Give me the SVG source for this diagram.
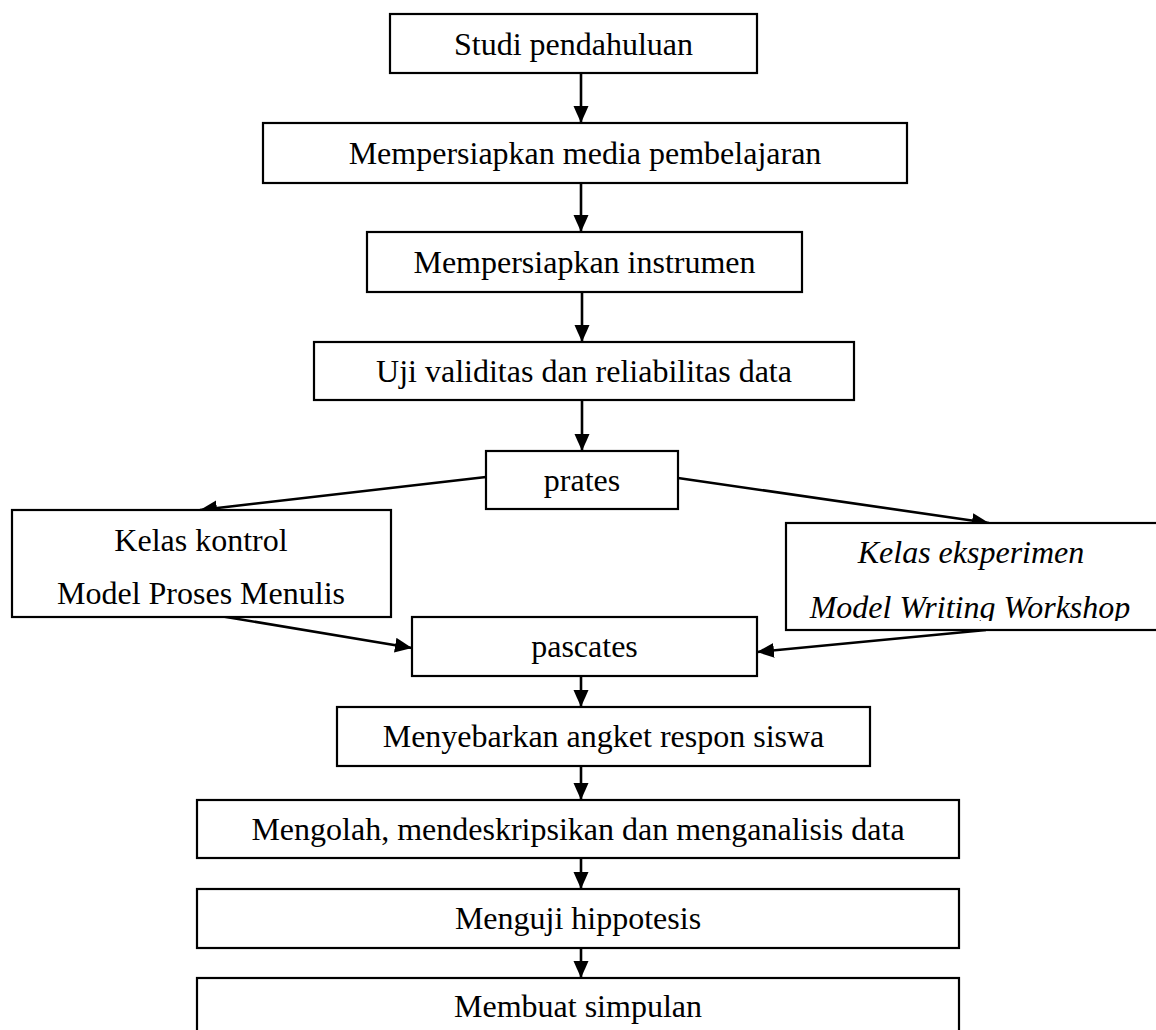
<svg xmlns="http://www.w3.org/2000/svg" width="1156" height="1030" viewBox="0 0 1156 1030">
<style>
.box{fill:#fff;stroke:#000;stroke-width:2.2}
.t{font-family:"Liberation Serif","Times New Roman",serif;font-size:32px;fill:#000;text-anchor:middle}
.i{font-style:italic}
.c{stroke:#000;stroke-width:2.6;fill:none;marker-end:url(#ah)}
</style>
<defs>
<marker id="ah" markerUnits="userSpaceOnUse" markerWidth="18" markerHeight="16" refX="17" refY="7.5" orient="auto">
<path d="M0,0 L17,7.5 L0,15 z" fill="#000"/>
</marker>
<clipPath id="clipEks"><rect x="786" y="523" width="372" height="98"/></clipPath>
</defs>
<rect width="1156" height="1030" fill="#fff"/>
<g id="connectors">
<line class="c" x1="581" y1="73" x2="581" y2="123"/>
<line class="c" x1="581" y1="183" x2="581" y2="232"/>
<line class="c" x1="582" y1="292" x2="582" y2="342"/>
<line class="c" x1="582" y1="400" x2="582" y2="451"/>
<line class="c" x1="486" y1="477" x2="200" y2="510"/>
<line class="c" x1="678" y1="478" x2="989" y2="523"/>
<line class="c" x1="220" y1="616" x2="412" y2="648"/>
<line class="c" x1="986" y1="630" x2="757" y2="652"/>
<line class="c" x1="581" y1="676" x2="581" y2="707"/>
<line class="c" x1="581" y1="766" x2="581" y2="800"/>
<line class="c" x1="581" y1="858" x2="581" y2="889"/>
<line class="c" x1="581" y1="948" x2="581" y2="978"/>
</g>
<g id="n1"><rect class="box" x="390" y="14" width="367" height="59"/><text class="t" x="573.5" y="55">Studi pendahuluan</text></g>
<g id="n2"><rect class="box" x="263" y="123" width="644" height="60"/><text class="t" x="585" y="164">Mempersiapkan media pembelajaran</text></g>
<g id="n3"><rect class="box" x="367" y="232" width="435" height="60"/><text class="t" x="584.5" y="273">Mempersiapkan instrumen</text></g>
<g id="n4"><rect class="box" x="314" y="342" width="540" height="58"/><text class="t" x="584" y="382">Uji validitas dan reliabilitas data</text></g>
<g id="n5"><rect class="box" x="486" y="451" width="192" height="58"/><text class="t" x="582" y="491">prates</text></g>
<g id="n6"><rect class="box" x="12" y="510" width="379" height="107"/><text class="t" x="201" y="551">Kelas kontrol</text><text class="t" x="201" y="604">Model Proses Menulis</text></g>
<g id="n7"><rect class="box" x="786" y="523" width="372" height="107"/><text class="t i" x="971" y="563">Kelas eksperimen</text><text class="t i" x="970" y="618" clip-path="url(#clipEks)">Model Writing Workshop</text></g>
<g id="n8"><rect class="box" x="412" y="617" width="345" height="59"/><text class="t" x="584.5" y="657">pascates</text></g>
<g id="n9"><rect class="box" x="337" y="707" width="533" height="59"/><text class="t" x="603.5" y="747">Menyebarkan angket respon siswa</text></g>
<g id="n10"><rect class="box" x="197" y="800" width="762" height="58"/><text class="t" x="578" y="840">Mengolah, mendeskripsikan dan menganalisis data</text></g>
<g id="n11"><rect class="box" x="197" y="889" width="762" height="59"/><text class="t" x="578" y="929">Menguji hippotesis</text></g>
<g id="n12"><rect class="box" x="197" y="978" width="762" height="60"/><text class="t" x="578" y="1017">Membuat simpulan</text></g>
</svg>
